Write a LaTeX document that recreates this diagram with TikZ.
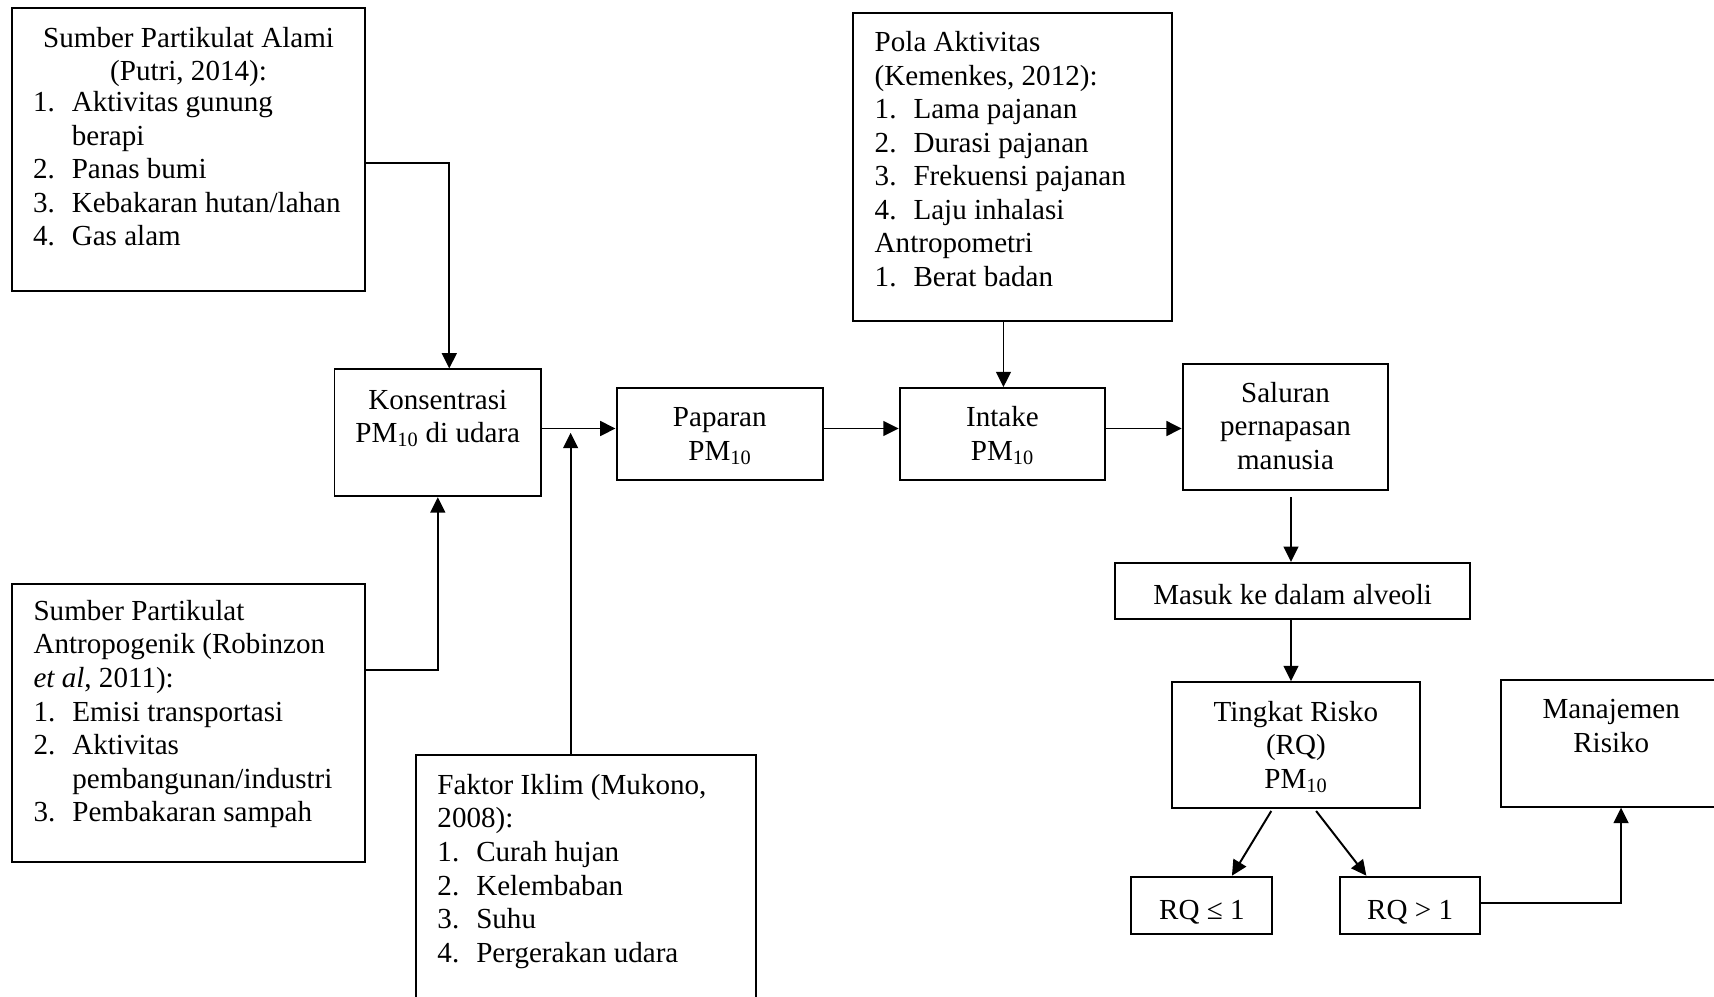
\documentclass[tikz,border=0pt]{standalone}
\usepackage{fontspec}
\setmainfont{Liberation Serif}
\usetikzlibrary{arrows.meta}
\newcommand{\fs}{\fontsize{26.6}{30.7}\selectfont}
\newcommand{\PMx}{PM\textsubscript{10}}
\newcommand{\itm}[1]{\makebox[35.5pt][l]{#1}}
\begin{document}
\begin{tikzpicture}[x=1pt,y=-1pt,
  box/.style={draw, line width=1.8pt, rectangle, inner sep=0pt},
  tl/.style={inner sep=0pt, anchor=north west, align=left, yshift=17.5pt, font=\fs, execute at begin node=\strut},
  tc/.style={inner sep=0pt, anchor=north, align=center, yshift=17.5pt, font=\fs, execute at begin node=\strut},
  arr/.style={line width=1.8pt, -{Triangle[length=14pt,width=13.5pt]}}]
\useasboundingbox (0,0) rectangle (1568,912);
\begin{scope}
\clip (0,0) rectangle (1568,912);
% boxes
\node[box, minimum width=323pt, minimum height=259pt] (A) at (172.5,136.5) {};
\node[box, minimum width=189pt, minimum height=116pt] (Kons) at (400.5,396) {};
\node[box, minimum width=323pt, minimum height=255pt] (B) at (172.5,661.5) {};
\node[box, minimum width=311pt, minimum height=269pt] (Fak) at (536.5,825.5) {};
\node[box, minimum width=189pt, minimum height=84pt] (Pap) at (658.5,397) {};
\node[box, minimum width=188pt, minimum height=84pt] (Int) at (917,397) {};
\node[box, minimum width=292pt, minimum height=282pt] (Pola) at (926,153) {};
\node[box, minimum width=188pt, minimum height=115pt] (Sal) at (1176,390.5) {};
\node[box, minimum width=325pt, minimum height=51pt] (Mas) at (1182.5,540.5) {};
\node[box, minimum width=227pt, minimum height=115pt] (Ting) at (1185.5,681.5) {};
\node[box, minimum width=203pt, minimum height=116pt] (Man) at (1474.5,680) {};
\node[box, minimum width=129pt, minimum height=52pt] (RQa) at (1099.5,828) {};
\node[box, minimum width=128pt, minimum height=52pt] (RQb) at (1290,828) {};
% texts
\node[tc] (At) at (172.5,42) {Sumber Partikulat Alami\\(Putri, 2014):};
\node[tl] (Al) at (30,101) {\itm{1.}Aktivitas gunung\\\itm{}berapi\\\itm{2.}Panas bumi\\\itm{3.}Kebakaran hutan/lahan\\\itm{4.}Gas alam};
\node[tl] (Bt) at (30.5,566.4) {Sumber Partikulat\\Antropogenik (Robinzon\\\textit{et al}, 2011):\\\itm{1.}Emisi transportasi\\\itm{2.}Aktivitas\\\itm{}pembangunan/industri\\\itm{3.}Pembakaran sampah};
\node[tl] (Ft) at (400,725.6) {Faktor Iklim (Mukono,\\2008):\\\itm{1.}Curah hujan\\\itm{2.}Kelembaban\\\itm{3.}Suhu\\\itm{4.}Pergerakan udara};
\node[tl] (Pt) at (800,46) {Pola Aktivitas\\(Kemenkes, 2012):\\\itm{1.}Lama pajanan\\\itm{2.}Durasi pajanan\\\itm{3.}Frekuensi pajanan\\\itm{4.}Laju inhalasi\\Antropometri\\\itm{1.}Berat badan};
\node[tc] (Kt) at (400.5,374) {Konsentrasi\\\PMx{} di udara};
\node[tc] (Papt) at (658.5,390.3) {Paparan\\\PMx};
\node[tc] (It) at (917,389) {Intake\\\PMx};
\node[tc] (St) at (1176,367) {Saluran\\pernapasan\\manusia};
\node[tc] (Mt) at (1182.5,549) {Masuk ke dalam alveoli};
\node[tc] (Tt) at (1185.5,658.5) {Tingkat Risko\\(RQ)\\\PMx};
\node[tc] (Mnt) at (1474,657) {Manajemen\\Risiko};
\node[tc] (Rat) at (1099.5,837) {RQ ≤ 1};
\node[tc] (Rbt) at (1290,837) {RQ > 1};
% helper coordinates
\coordinate (ak) at (411,149);
\coordinate (bk) at (400.5,613);
\coordinate (hy) at (0,392);
\coordinate (fx) at (522,396);
\coordinate (px) at (918,0);
\coordinate (sx) at (1181,455);
\coordinate (t1) at (1163,0);
\coordinate (t2) at (1127,0);
\coordinate (t3) at (1204,0);
\coordinate (t4) at (1250,0);
\coordinate (rm) at (1483,826);
% connectors
\draw[arr] (A.east |- ak) -| (Kons.north -| ak);
\draw[arr] (B.east |- bk) -| (Kons.south);
\draw[arr] (Kons.east |- hy) -- (Pap.west |- hy);
\draw[arr] (Fak.north -| fx) -- (fx);
\draw[arr] (Pap.east |- hy) -- (Int.west |- hy);
\draw[arr] (Pola.south -| px) -- (Int.north -| px);
\draw[arr] (Int.east |- hy) -- (Sal.west |- hy);
\draw[arr] (sx) -- (Mas.north -| sx);
\draw[arr] (Mas.south -| sx) -- (Ting.north -| sx);
\draw[arr] ([yshift=-2pt]Ting.south -| t1) -- (RQa.north -| t2);
\draw[arr] ([yshift=-2pt]Ting.south -| t3) -- (RQb.north -| t4);
\draw[arr] (RQb.east |- rm) -| (Man.south -| rm);
\end{scope}
\end{tikzpicture}
\end{document}
